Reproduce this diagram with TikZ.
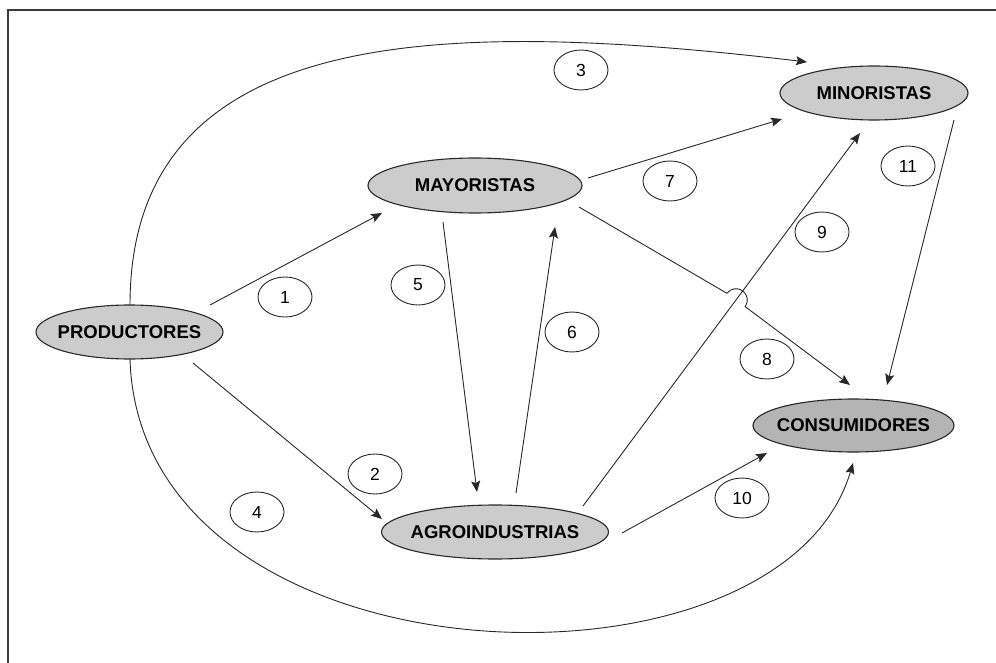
\documentclass[tikz,border=0pt]{standalone}
\usepackage{fontspec}
\setmainfont{Liberation Sans}
\usetikzlibrary{shapes.geometric,arrows.meta}
\definecolor{nodefill}{RGB}{204,204,204}
\definecolor{nodefilldark}{RGB}{180,180,180}
\definecolor{edge}{RGB}{40,40,40}
\definecolor{framec}{RGB}{60,60,60}
\begin{document}
\begin{tikzpicture}[x=1pt,y=-1pt,
  actor/.style={ellipse, draw=edge, line width=1.1pt, fill=nodefill, inner sep=0pt},
  actorlabel/.style={font=\bfseries\fontsize{18.5}{18.5}\selectfont},
  numtag/.style={ellipse, draw=edge, line width=0.9pt, fill=white, inner sep=0pt,
     minimum width=54pt, minimum height=40pt, font=\fontsize{17.5}{17.5}\selectfont},
  arr/.style={draw=edge, line width=0.9pt, -{Stealth[length=11pt,width=9pt,inset=2pt]}},
]
\useasboundingbox (0,0) rectangle (996,663);
\begin{scope}
\clip (0,0) rectangle (996,663);
\draw[framec, line width=1.3pt] (8,10) rectangle (1010,690);
\end{scope}

% actors
\node[actor, minimum width=187pt, minimum height=54pt,
  label={[actorlabel]center:PRODUCTORES}] (prod) at (129.5,332) {};
\node[actor, minimum width=214pt, minimum height=55pt,
  label={[actorlabel]center:MAYORISTAS}] (may) at (475,185.5) {};
\node[actor, minimum width=188pt, minimum height=54pt,
  label={[actorlabel]center:MINORISTAS}] (min) at (874,93) {};
\node[actor, fill=nodefilldark, minimum width=201pt, minimum height=53pt,
  label={[actorlabel]center:CONSUMIDORES}] (con) at (853.5,425.5) {};
\node[actor, minimum width=227pt, minimum height=54pt,
  label={[actorlabel]center:AGROINDUSTRIAS}] (agro) at (495,532) {};

% number tags
\node[numtag] (n1) at (285,297) {1};
\node[numtag] (n2) at (375,474) {2};
\node[numtag] (n3) at (581,70) {3};
\node[numtag] (n4) at (257,512) {4};
\node[numtag] (n5) at (418,285) {5};
\node[numtag] (n6) at (572,332) {6};
\node[numtag] (n7) at (670,181) {7};
\node[numtag] (n8) at (767,359) {8};
\node[numtag] (n9) at (822,232) {9};
\node[numtag] (n10) at (742,498) {10};
\node[numtag] (n11) at (908,166) {11};

% connector end points
\coordinate (p1s) at (210,305);   \coordinate (p1e) at (382,213);
\coordinate (p2s) at (193,363);   \coordinate (p2e) at (382,519);
\coordinate (p3s) at (130,305);   \coordinate (p3e) at (807,62);
\coordinate (p4s) at (130,359);   \coordinate (p4e) at (853,463);
\coordinate (p5s) at (443,222);   \coordinate (p5e) at (477,492);
\coordinate (p6s) at (516,493);   \coordinate (p6e) at (555,227);
\coordinate (p7s) at (588,178);   \coordinate (p7e) at (782,119);
\coordinate (p8s) at (579,207);   \coordinate (p8h) at (726.9,293.3); \coordinate (p8e) at (850,385);
\coordinate (p9s) at (583,506);   \coordinate (p9e) at (860,133);
\coordinate (p10s) at (622,533);  \coordinate (p10e) at (767,453);
\coordinate (p11s) at (954,120);  \coordinate (p11e) at (887,385);

% connectors
\draw[arr] (p1s) -- (p1e);
\draw[arr] (p2s) -- (p2e);
\draw[arr] (p3s) .. controls (130,20) and (450,20) .. (p3e);
\draw[arr] (p4s) .. controls (140,690) and (780,712) .. (p4e);
\draw[arr] (p5s) -- (p5e);
\draw[arr] (p6s) -- (p6e);
\draw[arr] (p7s) -- (p7e);
\draw[arr] (p9s) -- (p9e);
\draw[arr] (p8s) -- (p8h) arc[start angle=216.2, end angle=396.2, radius=11.3] -- (p8e);
\draw[arr] (p10s) -- (p10e);
\draw[arr] (p11s) -- (p11e);
\end{tikzpicture}
\end{document}
